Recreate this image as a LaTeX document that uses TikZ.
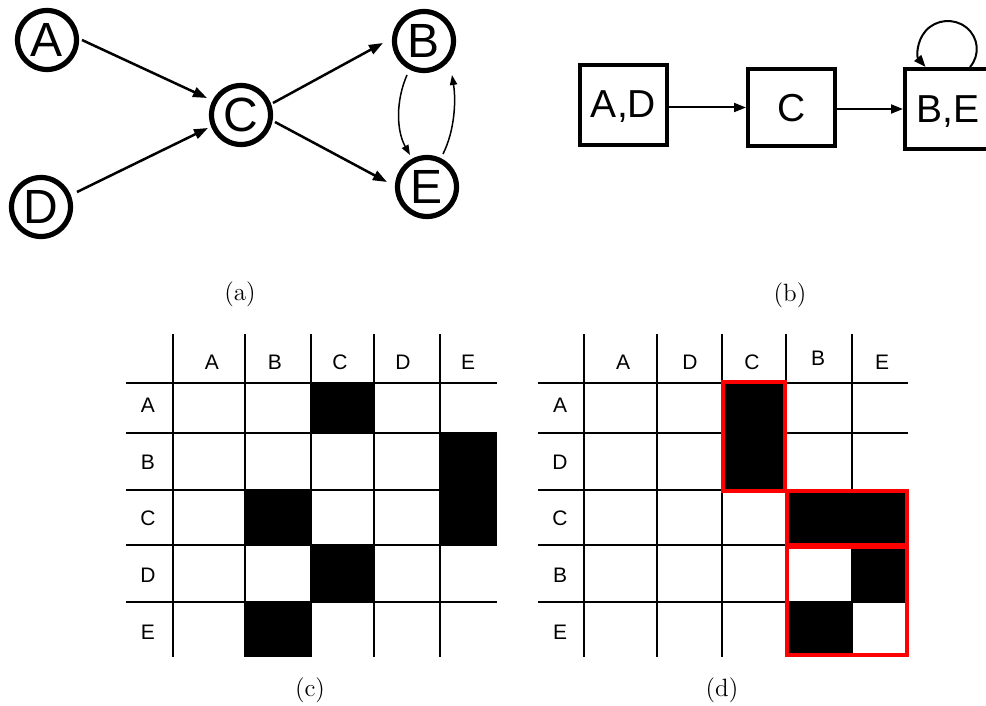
\documentclass[tikz,border=0pt]{standalone}
\usepackage{fontspec}
\setsansfont{Liberation Sans}
\usetikzlibrary{arrows.meta}
\tikzset{
  gnode/.style={circle,draw,line width=2.6pt,minimum size=29.5pt,inner sep=0pt,font=\sffamily\fontsize{24}{24}\selectfont},
  garrow/.style={line width=1.25pt,-{Triangle[length=7pt,width=5pt]}},
  carrow/.style={line width=0.75pt,-{Triangle[length=5pt,width=3.6pt]}},
  cbox/.style={draw,line width=2pt,inner sep=0pt,text depth=0pt,font=\sffamily\fontsize{19.5}{19.5}\selectfont},
  barrow/.style={line width=1pt,-{Triangle[length=6pt,width=4.5pt]}},
  gridline/.style={line width=0.75pt},
  lab/.style={font=\sffamily\fontsize{10.5}{10.5}\selectfont,inner sep=0pt},
  captext/.style={font=\fontsize{12.5}{15}\selectfont,inner sep=0pt},
  redbox/.style={draw=red,line width=2pt}
}
\begin{document}
\begin{tikzpicture}[x=0.5pt,y=-0.5pt]
\useasboundingbox (0,0) rectangle (986,706);
% ---------- (a) graph ----------
\node[gnode] (A) at (47,40) {A};
\node[gnode] (D) at (41,207) {D};
\node[gnode] (C) at (241,115) {C};
\node[gnode] (B) at (424,41) {B};
\node[gnode] (E) at (427,187) {E};
\draw[garrow] ([shift={(35,0)}]A.center) -- ([shift={(-34,-17)}]C.center);
\draw[garrow] ([shift={(36,-15)}]D.center) -- ([shift={(-33,13)}]C.center);
\draw[garrow] ([shift={(32,-12)}]C.center) -- ([shift={(-41,2)}]B.center);
\draw[garrow] ([shift={(34,7)}]C.center) -- ([shift={(-40,-5)}]E.center);
\draw[carrow] ([shift={(-17,34)}]B.center) .. controls +(-11,25) and +(-14,-25) .. ([shift={(-17,-32)}]E.center);
\draw[carrow] ([shift={(16,-33)}]E.center) .. controls +(12,-24) and +(4,25) .. ([shift={(28,34)}]B.center);
\node[captext] (capa) at (240,294) {(a)};
% ---------- (b) condensed graph ----------
\node[cbox,minimum width=43.5pt,minimum height=40pt,text height=13pt] (AD) at (623.5,105) {A,D};
\node[cbox,minimum width=43.5pt,minimum height=38.5pt,text height=14.5pt] (CC) at (791.5,107.5) {C};
\node[cbox,minimum width=43pt,minimum height=40pt,text height=14pt] (BE) at (948,109) {B,E};
\draw[barrow] (AD.east |- CC.west) -- (CC.west);
\draw[barrow] (CC.east |- BE.west) -- (BE.west);
\draw[barrow] ([shift={(22,0)}]BE.north) arc[start angle=40, end angle=-220, x radius=29, y radius=28];
\node[captext] (capb) at (790,295) {(b)};
% ---------- (c) matrix ----------
\foreach \x in {173,245,311,374,440} \draw[gridline] (\x,334) -- (\x,657);
\foreach \y in {383,433,490,545,602} \draw[gridline] (126,\y) -- (497,\y);
\fill (311,383) rectangle (374,433);
\fill (440,433) rectangle (497,545);
\fill (245,490) rectangle (311,545);
\fill (311,545) rectangle (374,602);
\fill (245,602) rectangle (311,657);
\foreach \t/\x in {A/212,B/275,C/340,D/403,E/468} \node[lab] (ch\t) at (\x,362) {\t};
\foreach \t/\y in {A/405,B/462,C/518,D/575,E/632} \node[lab] (cr\t) at (148,\y) {\t};
\node[captext] (capc) at (310,690) {(c)};
% ---------- (d) reordered matrix ----------
\foreach \x in {584,657,722,786,852} \draw[gridline] (\x,334) -- (\x,657);
\foreach \y in {383,433,490,545,602} \draw[gridline] (538,\y) -- (908,\y);
\fill (723,382) rectangle (785,491);
\fill (787,491) rectangle (907,545);
\fill (852,545) rectangle (907,602);
\fill (787,602) rectangle (852,655);
\draw[redbox] (723,382) rectangle (785,491);
\draw[redbox] (787,491) rectangle (907,545);
\draw[redbox] (787,547) rectangle (907,655);
\foreach \t/\x/\y in {A/623/362,D/690/362,C/752/362,B/818/358,E/882/362} \node[lab] (dh\t) at (\x,\y) {\t};
\foreach \t/\y in {A/405,D/462,C/518,B/575,E/632} \node[lab] (dr\t) at (560,\y) {\t};
\node[captext] (capd) at (722,690) {(d)};
\end{tikzpicture}
\end{document}
